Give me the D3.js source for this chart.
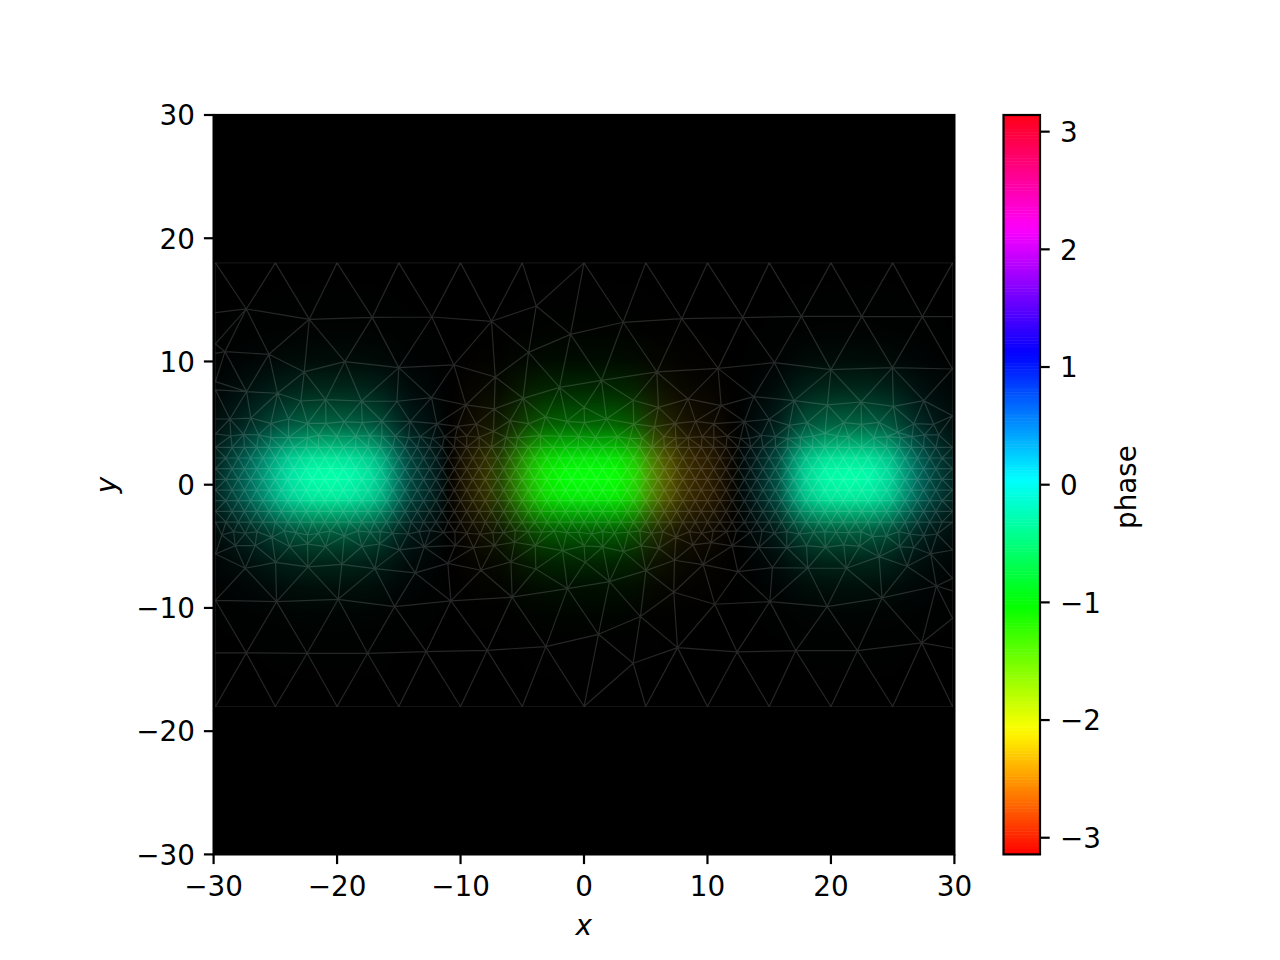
<!DOCTYPE html>
<html><head><meta charset="utf-8">
<style>html,body{margin:0;padding:0;background:#fff}svg{display:block}text{font-family:"DejaVu Sans";fill:#000}</style>
<script src="https://cdn.jsdelivr.net/npm/d3@7"></script></head><body>
<svg id="c" width="1280" height="960"></svg>
<script>
const xTicks=[-30,-20,-10,0,10,20,30];
const yTicks=[-30,-20,-10,0,10,20,30];
const cbTicks=[-3,-2,-1,0,1,2,3];
// brightness read along the central row
const ampSampleX=[-29.85,-27.57,-26.03,-24.82,-23.77,-22.15,-20.53,-18.91,-17.29,-16.23,-15.26,-14.05,-12.83,-11.62,-11.05,-10.8,-10.24,-9.43,-8.14,-6.76,-5.55,-4.33,-3.12,-1.5,.53,2.55,4.17,5.38,6.6,7.81,9.03,10.24,11.21,12.1,12.67,13.64,14.7,15.75,16.88,17.94,19.55,21.4,23.2,24.8,26.03,27.09,28.2,29.85];
const ampX=[.14,.38,.58,.76,.88,.98,1,.97,.87,.72,.5,.28,.18,.08,.02,.02,.07,.13,.19,.28,.5,.74,.91,.99,1,.99,.84,.58,.38,.26,.21,.17,.1,.03,.03,.1,.2,.33,.6,.82,.97,1,.97,.83,.6,.42,.28,.15];
// phase read along the central row
const phaseSampleX=[-29.85,-27.6,-24.8,-22.1,-20.5,-17.9,-16.5,-15.1,-13.8,-12.4,-11.4,-11.05,-10.8,-10.2,-9.4,-8.1,-6.8,-5.4,-4.1,-2.7,-1.3,-0.3,1.6,3,4.3,5.6,7,8.4,9.4,10.8,12.1,12.67,14,15.3,16.7,18.1,19.4,20.9,22.2,23.6,25,26.3,27.7,29,29.85];
const phaseX=[-.05,-.1,-.22,-.3,-.31,-.28,-.25,-.15,-.05,-.02,0,-1,-2.45,-2.4,-2.3,-2.1,-1.55,-1.3,-1.15,-1.05,-1,-1,-1,-1.05,-1.2,-1.6,-2.05,-2.3,-2.4,-2.45,-2.5,0,0,-.1,-.2,-.27,-.3,-.31,-.31,-.28,-.25,-.15,-.05,-.05,-.05];
const sampleY=[18,15,12.5,10.1,7.85,6.9,4.85,3.63,2.17,1,.4,-1,-2.62,-3.67,-5.05,-6.35,-8.3,-10.4,-12.6,-18];
const ampY=[0,.004,.012,.045,.15,.22,.4,.62,.9,1,1,.93,.6,.38,.24,.14,.06,.02,.005,0];
// matplotlib hsv colormap knots
const redKnots=[[0,1],[.15873,1],[.174603,.96875],[.333333,.03125],[.349206,0],[.666667,0],[.68254,.03125],[.84127,.96875],[.857143,1],[1,1]];
const greenKnots=[[0,0],[.15873,.9375],[.174603,1],[.507937,1],[.666667,.0625],[.68254,0],[1,0]];
const blueKnots=[[0,0],[.333333,0],[.349206,.0625],[.507937,1],[.84127,1],[.857143,.9375],[1,.09375]];
// mesh vertices
const meshTopBottomX=[-29.85,-25,-20,-15,-10,-5,0,5,10,15,20,25,29.85];
const meshEdgeY=[18,-18];
const latticeRowsInt=[.433,2.165,-1.299,-3.031];
const latticeRowsHalf=[1.299,3.031,-.433,-2.165];
const meshX=[-27.35,-22.25,-17.15,-12.32,-7.49,-3.87,-1.09,-29.85,-29.08,-25.52,-22.66,-19.37,-15,-10.54,-7.19,-4.49,-1.98,1.42,-29.85,-29.85,-29.85,-29.85,-27.33,-24.82,-22.93,-20.93,-18.02,-15.15,-12.35,-9.57,-7.27,-4.93,.01,-28.68,-26.98,-25.36,-23.93,-22.39,-20.9,-19.42,-17.96,-16.37,-14.08,-11.92,-10.24,-8.73,-7.33,-5.98,-4.49,-3.12,-1.39,.04,-29.85,-29.85,-28.6,-27.57,-26.36,-25.36,-23.93,-22.39,-21.5,-20.01,-18.47,-17.37,-16.37,-15.29,-14.21,-13.27,-12.29,-11.3,-10.43,-9.49,-8.49,-6.3,-5.38,-3.55,-1.93,-.42,
3.17,7.92,12.86,17.61,22.5,27.41,29.85,5.9,10.86,15.42,20,24.98,29.85,3.98,6.03,8.43,11.11,13.75,17.02,19.72,22.44,25.06,27.52,29.85,1.82,4.03,5.71,7.38,9.03,10.51,12.99,14.99,16.64,18.07,19.53,21.04,22.47,23.9,25.41,26.71,28.33,.93,2.69,3.71,4.71,6.46,7.44,8.43,9.57,10.51,11.59,12.67,13.4,14.35,15.5,16.5,17.53,18.55,20.5,21.44,23.47,24.55,25.63,26.57,27.57,28.73,
-29.33,-28.38,-27.44,-26.49,-25.28,-24.28,-23.33,-22.39,-21.5,-20.55,-19.42,-18.31,-17.31,-16.5,-15.51,-14.26,-13.35,-12.46,-11.38,-10.46,-9.49,-8.41,-7.38,-6.52,-5.57,-4.55,-3.41,-2.42,-1.39,-.44,.63,-28.25,-26.63,-23.85,-22.39,-20.93,-17.99,-16.56,-14.94,-12.94,-10.43,-8.95,-7.27,-5.63,-3.95,-1.74,.01,-29.85,-27.44,-24.98,-22.36,-19.61,-16.94,-13.67,-11.03,-8.35,-5.92,-3.9,.09,-29.85,-24.9,-19.91,-15.34,-10.78,-5.82,-1.34,-29.85,-27.35,-22.42,-17.53,-12.78,-7.84,-3.09,
1.52,2.47,3.58,4.52,5.47,6.38,7.44,8.54,9.54,10.46,11.54,12.35,13.48,14.43,15.42,16.42,17.45,18.61,19.5,20.42,21.44,22.44,23.36,24.49,25.49,26.38,27.52,28.6,1.52,3.2,4.63,6.06,8.81,10.3,12,14.16,16.42,18.02,19.55,21.04,22.33,23.9,25.57,26.71,28.08,29.85,5.01,7.33,9.65,12.46,15.26,18.12,21.25,26.17,2.06,7.27,10.59,15.05,19.69,24.14,28.54,29.85,29.85,4.57,1.17,7.57,12.4,17.15,22.15,27.35,29.85,29.85,3.98];
const meshY=[14.26,13.42,13.58,13.61,13.26,14.5,12.2,13.96,10.8,10.58,9.15,9.99,9.5,9.72,8.74,10.74,7.9,8.47,11.42,10.66,8.36,7.69,7.55,7.42,6.79,6.9,6.79,6.77,7.06,6.47,6.15,7.01,6.28,5.33,5.41,4.98,5.33,4.98,4.98,5.12,5.04,5.17,5.14,4.95,4.74,4.93,4.33,5.2,4.95,5.5,5.14,5.04,5.33,4.12,3.95,4.09,4.04,3.82,3.82,3.82,4,3.93,3.95,3.98,3.93,3.95,3.82,3.9,3.76,3.9,3.82,3.95,3.85,3.85,3.82,3.98,3.93,3.93,
13.18,13.47,13.56,13.66,13.66,13.64,13.64,9.15,9.44,9.9,9.34,9.5,9.39,6.85,6.28,6.96,6.42,7.15,6.82,6.47,6.71,6.36,6.82,5.6,5.33,4.93,4.71,4.98,5.14,4.95,5.12,5.31,4.82,5.04,4.17,5.04,4.9,5.06,4.25,4.95,4.9,3.82,3.9,3.76,3.76,3.9,3.79,3.82,3.9,3.82,3.95,3.76,3.76,4,3.9,3.76,3.82,3.95,3.95,3.9,3.82,3.9,3.82,3.9,4.04,4.04,
-4.08,-3.81,-3.94,-3.81,-4.27,-3.75,-3.89,-4.08,-3.94,-3.75,-4.16,-3.75,-3.86,-3.81,-3.94,-4,-3.81,-3.73,-3.89,-3.81,-3.94,-4.02,-3.89,-3.89,-3.73,-3.81,-3.86,-3.75,-3.89,-3.86,-4,-4.94,-4.94,-5.02,-4.81,-5.02,-5.02,-4.81,-5.29,-5.05,-4.94,-5.11,-4.94,-4.67,-4.94,-5.35,-4.97,-5.62,-6.78,-6.3,-6.67,-6.46,-6.81,-7.16,-6.38,-6.94,-6.27,-6.84,-6.3,-9.38,-9.49,-9.3,-9.89,-9.43,-9.13,-8.43,-13.65,-13.65,-13.68,-13.68,-13.54,-13.44,-13.14,
-3.81,-3.94,-3.86,-3.75,-3.94,-3.81,-4.27,-3.81,-3.94,-3.75,-3.81,-3.75,-3.86,-3.75,-3.94,-3.81,-4,-3.86,-3.81,-3.86,-3.89,-3.81,-4.21,-4.16,-3.81,-4,-4.13,-4,-5.05,-5.43,-4.97,-5.16,-4.89,-4.7,-4.97,-5.1,-5.1,-4.94,-5.08,-4.89,-5,-5.84,-5.02,-5.1,-5.62,-5.3,-6.97,-6.13,-6.48,-7.05,-6.73,-6.76,-6.78,-6.62,-7.86,-8.73,-9.7,-9.49,-9.89,-9.19,-8.22,-7.6,-8.62,-10.7,-12.14,-13.22,-13.57,-13.46,-13.46,-12.84,-10.84,-13.27,-14.49];

const X=d3.scaleLinear().domain([-30,30]).range([213.6,954.4]);
const Y=d3.scaleLinear().domain([-30,30]).range([854.4,115]);
const P=d3.scaleLinear().domain([-Math.PI,Math.PI]).range([0,1]);
const knotScale=k=>d3.scaleLinear().domain(k.map(d=>d[0])).range(k.map(d=>d[1])).clamp(true);
const cR=knotScale(redKnots),cG=knotScale(greenKnots),cB=knotScale(blueKnots);
const Ax=d3.scaleLinear().domain(ampSampleX).range(ampX).clamp(true);
const Ph=d3.scaleLinear().domain(phaseSampleX).range(phaseX).clamp(true);
const Ay=d3.scaleLinear().domain(sampleY).range(ampY).clamp(true);

const svg=d3.select('#c');
svg.append('rect').attr('x',X(-30)).attr('y',Y(30)).attr('width',X(30)-X(-30)).attr('height',Y(-30)-Y(30)).attr('fill','#000');

// field
const x0=Math.round(X(-29.85)),x1=Math.round(X(29.85)),y0=Math.round(Y(18)),y1=Math.round(Y(-18));
const cv=document.createElement('canvas');cv.width=x1-x0;cv.height=y1-y0;
const g=cv.getContext('2d'),im=g.createImageData(cv.width,cv.height);
for(let j=0;j<cv.height;j++){const yy=Y.invert(y0+j+.5),b=Ay(yy);
 for(let i=0;i<cv.width;i++){const xx=X.invert(x0+i+.5),v=Ax(xx)*b,t=P(Ph(xx)),k=(j*cv.width+i)*4;
  im.data[k]=255*v*cR(t);im.data[k+1]=255*v*cG(t);im.data[k+2]=255*v*cB(t);im.data[k+3]=255;}}
g.putImageData(im,0,0);
svg.append('image').attr('x',x0).attr('y',y0).attr('width',x1-x0).attr('height',y1-y0).attr('href',cv.toDataURL());

// mesh
const pts=[];
meshEdgeY.forEach(y=>meshTopBottomX.forEach(x=>pts.push([x,y])));
latticeRowsInt.forEach(y=>{d3.range(-29,30).forEach(x=>pts.push([x,y]));pts.push([-29.85,y],[29.85,y]);});
latticeRowsHalf.forEach(y=>{d3.range(-28.5,29).forEach(x=>pts.push([x,y]));pts.push([-29.85,y],[29.85,y]);});
meshX.forEach((x,i)=>pts.push([x,meshY[i]]));
const del=d3.Delaunay.from(pts,d=>X(d[0]),d=>Y(d[1]));
const inner=d3.path();
del.halfedges.forEach((j,i)=>{ if(j<i) return;
  const a=del.triangles[i],b=del.triangles[i%3===2?i-2:i+1];
  inner.moveTo(del.points[a*2],del.points[a*2+1]);inner.lineTo(del.points[b*2],del.points[b*2+1]);});
svg.append('path').attr('d',inner.toString()).attr('fill','none').attr('stroke','#fff').attr('stroke-opacity',.15).attr('stroke-width',1.2);
svg.append('path').attr('d',del.renderHull()).attr('fill','none').attr('stroke','#fff').attr('stroke-opacity',.07).attr('stroke-width',1.2);

// spines + axes
const fs='27.8px',tk=9.7,sw=2.2;
svg.append('rect').attr('x',X(-30)).attr('y',Y(30)).attr('width',X(30)-X(-30)).attr('height',Y(-30)-Y(30)).attr('fill','none').attr('stroke','#000').attr('stroke-width',sw);
const style=s=>{s.select('.domain').remove();s.selectAll('line').attr('stroke','#000').attr('stroke-width',sw);s.selectAll('text').attr('font-size',fs).attr('fill','#000').style('font-family','"DejaVu Sans"');s.attr('font-family',null).attr('font-size',null);};
const vdy=s=>s.selectAll('text').attr('dy','10.3px');
svg.append('g').attr('transform',`translate(0,${Y(-30)})`).call(d3.axisBottom(X).offset(0).tickValues(xTicks).tickSize(tk).tickPadding(12).tickFormat(d3.format('d'))).call(style);
svg.append('g').attr('transform',`translate(${X(-30)},0)`).call(d3.axisLeft(Y).offset(0).tickValues(yTicks).tickSize(tk).tickPadding(9).tickFormat(d3.format('d'))).call(style).call(vdy);

// colorbar
const cbL=1003.5,cbR=1040;
const CY=d3.scaleLinear().domain([-Math.PI,Math.PI]).range([854.4,115]);
const levels=d3.range(256);
svg.append('g').selectAll('rect').data(levels).join('rect')
 .attr('x',cbL).attr('width',cbR-cbL)
 .attr('y',d=>CY(-Math.PI+(d+1)/256*2*Math.PI)).attr('height',(854.4-115)/256+.5)
 .attr('fill',d=>{const t=(d+.5)/256;return d3.rgb(255*cR(t),255*cG(t),255*cB(t)).formatRgb();});
svg.append('rect').attr('x',cbL).attr('y',115).attr('width',cbR-cbL).attr('height',739.4).attr('fill','none').attr('stroke','#000').attr('stroke-width',sw);
svg.append('g').attr('transform',`translate(${cbR},0)`).call(d3.axisRight(CY).offset(0).tickValues(cbTicks).tickSize(tk).tickPadding(10.3).tickFormat(d3.format('d'))).call(style).call(vdy);

// labels
svg.append('text').attr('x',583.7).attr('y',935).attr('text-anchor','middle').attr('font-size',fs).attr('font-style','italic').text('x');
svg.append('text').attr('transform','translate(116,485) rotate(-90)').attr('text-anchor','middle').attr('font-size',fs).attr('font-style','italic').text('y');
svg.append('text').attr('transform','translate(1136,487) rotate(-90)').attr('text-anchor','middle').attr('font-size',fs).text('phase');
</script></body></html>
